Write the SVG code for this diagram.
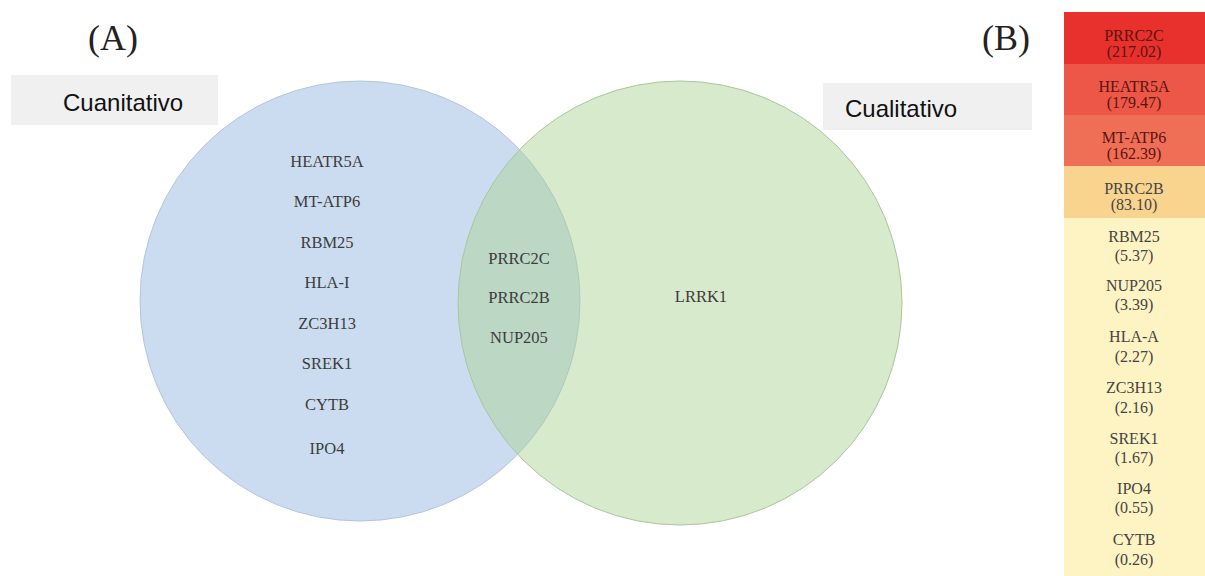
<svg xmlns="http://www.w3.org/2000/svg" width="1205" height="576" viewBox="0 0 1205 576">
<style>
.lab{font-family:"Liberation Serif","DejaVu Serif",serif;font-size:16.5px;fill:#3c3c3c;text-anchor:middle;}
.big{font-family:"Liberation Serif","DejaVu Serif",serif;font-size:36px;fill:#222;}
.box{fill:#f0f0f0;}
.sans{font-family:"Liberation Sans",Arial,sans-serif;font-size:24px;fill:#111;}
.cell{font-family:"Liberation Serif","DejaVu Serif",serif;font-size:16px;text-anchor:middle;fill:#444;}
.dark{fill:#5a1410;}
</style>
<rect width="1205" height="576" fill="#ffffff"/>
<text class="big" x="88" y="50">(A)</text>
<text class="big" x="982" y="50">(B)</text>
<g id="venn-blue">
<circle cx="360" cy="301" r="220" fill="#ccdcf0" stroke="#b3c6de" stroke-width="1"/>
</g>
<g id="venn-green">
<circle cx="680" cy="303" r="222" fill="#a9d18e" fill-opacity="0.45" stroke="#a9c79a" stroke-width="1"/>
</g>
<g id="label-cuanitativo">
<rect class="box" x="11" y="75" width="207" height="50"/>
<text class="sans" x="63" y="111">Cuanitativo</text>
</g>
<g id="label-cualitativo">
<rect class="box" x="823" y="83" width="209" height="47"/>
<text class="sans" x="845" y="117">Cualitativo</text>
</g>
<g id="blue-only">
<text class="lab" x="327" y="167">HEATR5A</text>
<text class="lab" x="327" y="207">MT-ATP6</text>
<text class="lab" x="327" y="248">RBM25</text>
<text class="lab" x="327" y="288">HLA-I</text>
<text class="lab" x="327" y="329">ZC3H13</text>
<text class="lab" x="327" y="369">SREK1</text>
<text class="lab" x="327" y="410">CYTB</text>
<text class="lab" x="327" y="454">IPO4</text>
</g>
<g id="overlap">
<text class="lab" x="519" y="264">PRRC2C</text>
<text class="lab" x="519" y="303">PRRC2B</text>
<text class="lab" x="519" y="343">NUP205</text>
</g>
<g id="green-only">
<text class="lab" x="701" y="302">LRRK1</text>
</g>
<g id="table">
<rect x="1064" y="12" width="141" height="52" fill="#e8302d"/>
<rect x="1064" y="64" width="141" height="51" fill="#ec5747"/>
<rect x="1064" y="115" width="141" height="51" fill="#ef6f56"/>
<rect x="1064" y="166" width="141" height="52" fill="#f9d48f"/>
<rect x="1064" y="218" width="141" height="358" fill="#fdf3c3"/>
<text class="cell dark" x="1134" y="41">PRRC2C</text><text class="cell dark" x="1134" y="57">(217.02)</text>
<text class="cell dark" x="1134" y="92">HEATR5A</text><text class="cell dark" x="1134" y="108">(179.47)</text>
<text class="cell dark" x="1134" y="143">MT-ATP6</text><text class="cell dark" x="1134" y="159">(162.39)</text>
<text class="cell" x="1134" y="194">PRRC2B</text><text class="cell" x="1134" y="210">(83.10)</text>
<text class="cell" x="1134" y="242">RBM25</text><text class="cell" x="1134" y="261">(5.37)</text>
<text class="cell" x="1134" y="291">NUP205</text><text class="cell" x="1134" y="310">(3.39)</text>
<text class="cell" x="1134" y="342">HLA-A</text><text class="cell" x="1134" y="362">(2.27)</text>
<text class="cell" x="1134" y="393">ZC3H13</text><text class="cell" x="1134" y="413">(2.16)</text>
<text class="cell" x="1134" y="444">SREK1</text><text class="cell" x="1134" y="463">(1.67)</text>
<text class="cell" x="1134" y="494">IPO4</text><text class="cell" x="1134" y="513">(0.55)</text>
<text class="cell" x="1134" y="545">CYTB</text><text class="cell" x="1134" y="565">(0.26)</text>
</g>
</svg>
